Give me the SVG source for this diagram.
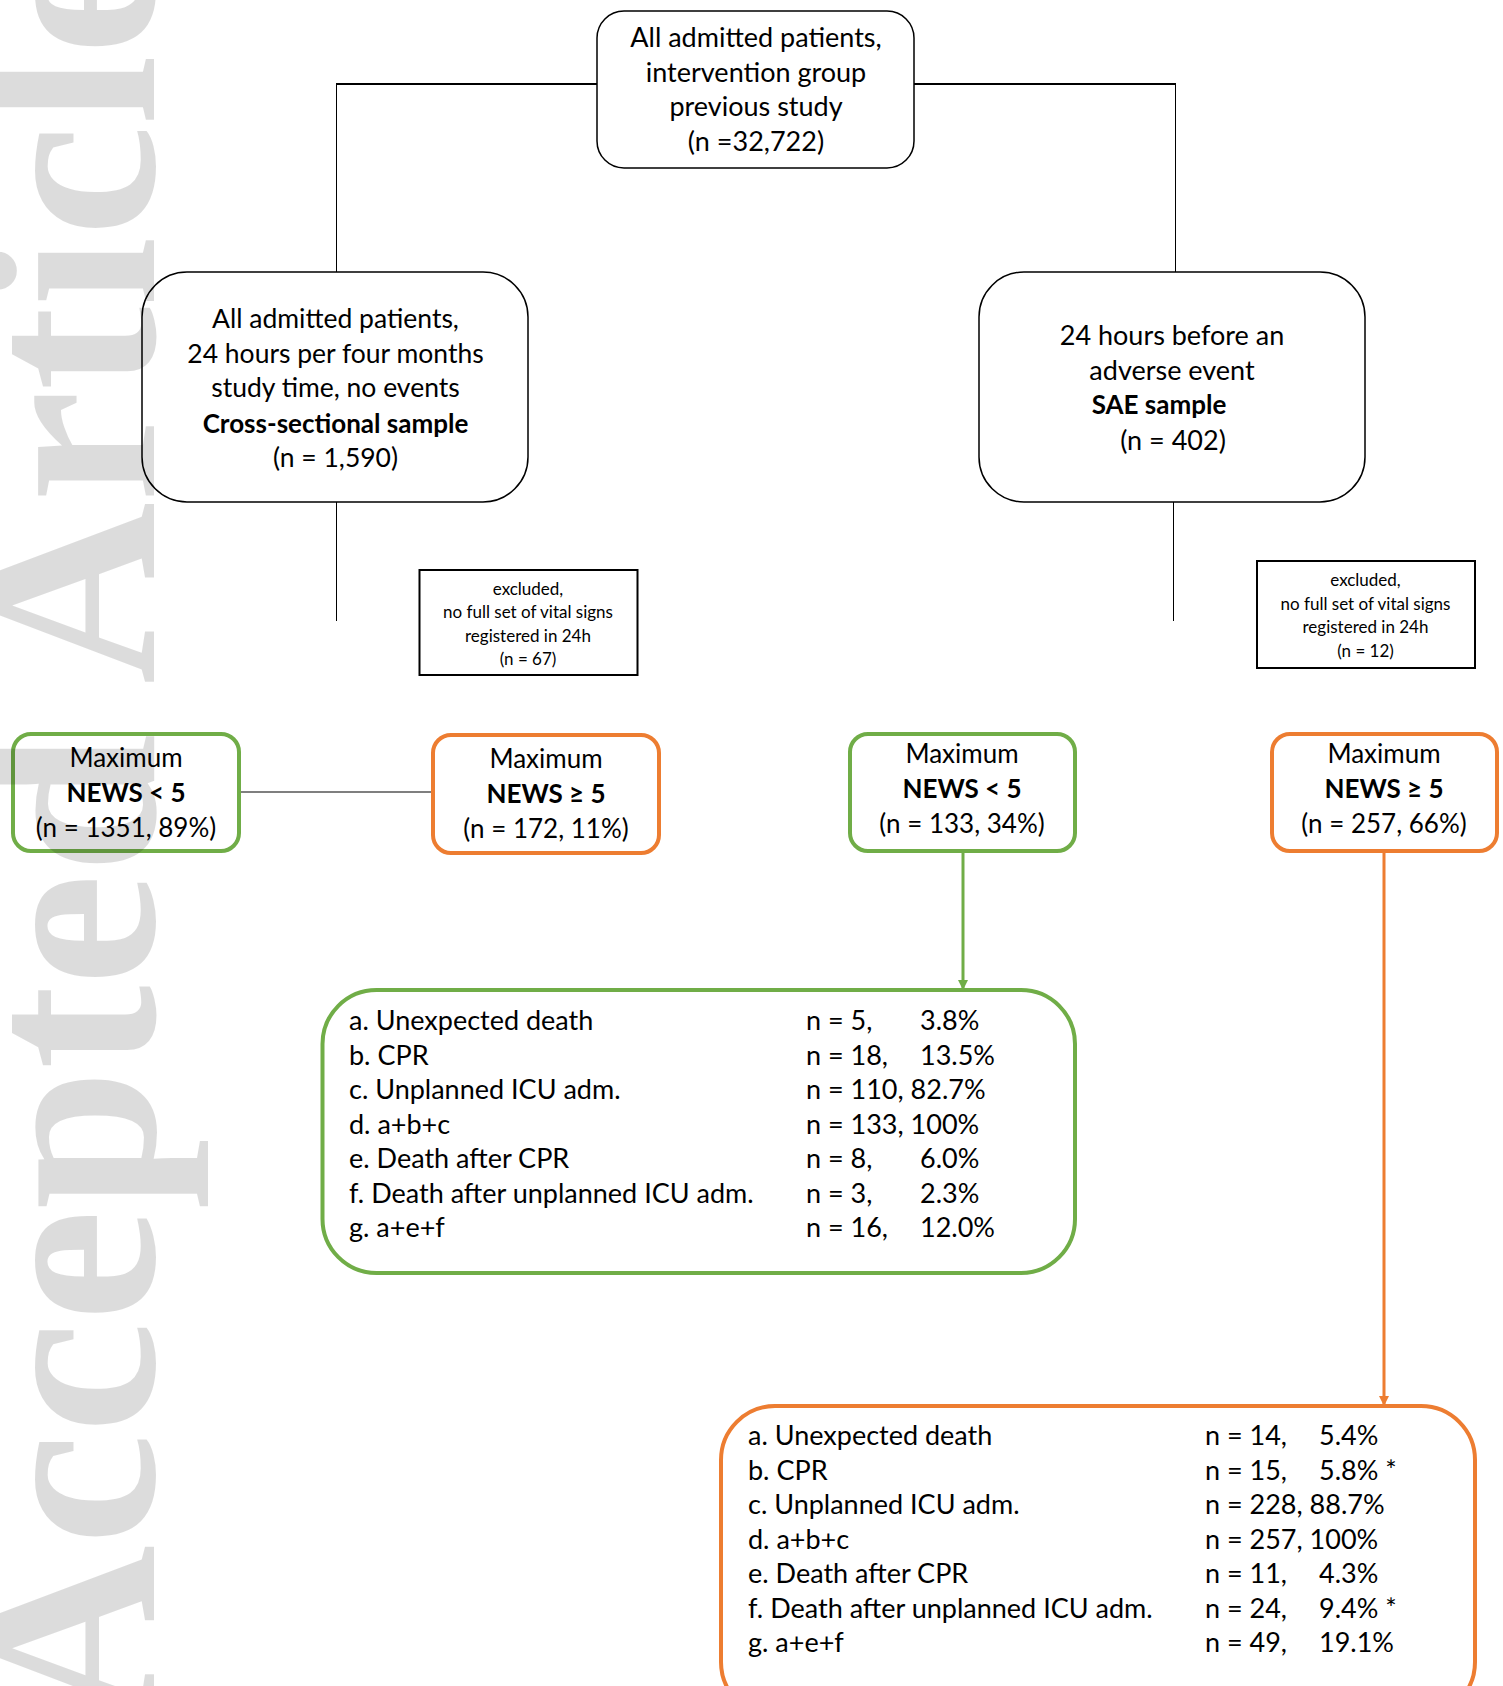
<svg xmlns="http://www.w3.org/2000/svg" width="1503" height="1686" viewBox="0 0 1503 1686">
<style>
  .t { font-family: Lato, "Noto Sans", "DejaVu Sans", sans-serif; font-size: 27px; fill: #000; text-anchor: middle; }
  .m { font-size: 26.5px; }
  .n { font-size: 26px; }
  .l { font-family: Lato, "Noto Sans", "DejaVu Sans", sans-serif; font-size: 27px; fill: #000; }
  .s { font-family: Lato, "Noto Sans", "DejaVu Sans", sans-serif; font-size: 17px; fill: #000; text-anchor: middle; }
  .b { font-weight: bold; font-size: 26px; }
  .box { fill: #fff; stroke: #000; stroke-width: 1.5; }
  .ex { fill: #fff; stroke: #000; stroke-width: 2; }
  .g { fill: #fff; stroke: #70AD47; stroke-width: 4; }
  .o { fill: #fff; stroke: #ED7D31; stroke-width: 4; }
  .wm { font-family: "Liberation Serif", "Times New Roman", serif; font-weight: bold; font-size: 252px; fill: #000; fill-opacity: 0.137; }
</style>
<defs>
  <marker id="ag" markerWidth="10" markerHeight="10" refX="8" refY="5" orient="auto" markerUnits="userSpaceOnUse" viewBox="0 0 10 10"><path d="M0,0 L10,5 L0,10 z" fill="#70AD47"/></marker>
  <marker id="ao" markerWidth="10" markerHeight="10" refX="8" refY="5" orient="auto" markerUnits="userSpaceOnUse" viewBox="0 0 10 10"><path d="M0,0 L10,5 L0,10 z" fill="#ED7D31"/></marker>
</defs>
<rect width="1503" height="1686" fill="#fff"/>

<g id="connectors" fill="none">
  <line x1="336" y1="84" x2="597" y2="84" stroke="#000" stroke-width="2"/>
  <line x1="914" y1="84" x2="1176" y2="84" stroke="#000" stroke-width="2"/>
  <line x1="336.5" y1="84" x2="336.5" y2="272" stroke="#000" stroke-width="1"/>
  <line x1="1175.5" y1="84" x2="1175.5" y2="272" stroke="#000" stroke-width="1"/>
  <line x1="336.5" y1="502" x2="336.5" y2="621" stroke="#000" stroke-width="1"/>
  <line x1="1173.5" y1="502" x2="1173.5" y2="621" stroke="#000" stroke-width="1"/>
  <line x1="239" y1="792" x2="433" y2="792" stroke="#7f7f7f" stroke-width="2"/>
  <line x1="963" y1="853" x2="963" y2="988" stroke="#70AD47" stroke-width="3" marker-end="url(#ag)"/>
  <line x1="1384" y1="853" x2="1384" y2="1404" stroke="#ED7D31" stroke-width="3" marker-end="url(#ao)"/>
</g>

<g id="top">
  <rect class="box" x="597" y="11" width="317" height="157" rx="27"/>
  <text class="t" x="756" y="47">All admitted patients,</text>
  <text class="t" x="756" y="81.5">intervention group</text>
  <text class="t" x="756" y="116">previous study</text>
  <text class="t" x="756" y="150.5">(n =32,722)</text>
</g>

<g id="cross">
  <rect class="box" x="142" y="272" width="386" height="230" rx="45"/>
  <text class="t m" x="335.5" y="328">All admitted patients,</text>
  <text class="t m" x="335.5" y="363">24 hours per four months</text>
  <text class="t m" x="335.5" y="397">study time, no events</text>
  <text class="t b" x="335.5" y="433">Cross-sectional sample</text>
  <text class="t m" x="335.5" y="467">(n = 1,590)</text>
</g>

<g id="sae">
  <rect class="box" x="979" y="272" width="386" height="230" rx="45"/>
  <text class="t" x="1172" y="345">24 hours before an</text>
  <text class="t" x="1172" y="379.5">adverse event</text>
  <text class="t b" x="1159" y="414">SAE sample</text>
  <text class="t" x="1173" y="450">(n = 402)</text>
</g>

<g id="excl-left">
  <rect class="ex" x="419.5" y="570" width="218" height="105"/>
  <text class="s" x="528" y="595">excluded,</text>
  <text class="s" x="528" y="618">no full set of vital signs</text>
  <text class="s" x="528" y="642">registered in 24h</text>
  <text class="s" x="528" y="665">(n = 67)</text>
</g>

<g id="excl-right">
  <rect class="ex" x="1257" y="561" width="218" height="107"/>
  <text class="s" x="1365.5" y="586">excluded,</text>
  <text class="s" x="1365.5" y="609.5">no full set of vital signs</text>
  <text class="s" x="1365.5" y="633">registered in 24h</text>
  <text class="s" x="1365.5" y="656.5">(n = 12)</text>
</g>

<g id="cs-low">
  <rect class="g" x="13" y="734" width="226" height="117" rx="18"/>
  <text class="t n" x="126" y="767">Maximum</text>
  <text class="t b" x="126" y="801.5">NEWS &lt; 5</text>
  <text class="t n" x="126" y="837">(n = 1351, 89%)</text>
</g>

<g id="cs-high">
  <rect class="o" x="433" y="735" width="226" height="118" rx="18"/>
  <text class="t n" x="546" y="768">Maximum</text>
  <text class="t b" x="546" y="803">NEWS ≥ 5</text>
  <text class="t n" x="546" y="838">(n = 172, 11%)</text>
</g>

<g id="sae-low">
  <rect class="g" x="850" y="734" width="225" height="117" rx="18"/>
  <text class="t n" x="962" y="763">Maximum</text>
  <text class="t b" x="962" y="798">NEWS &lt; 5</text>
  <text class="t n" x="962" y="833">(n = 133, 34%)</text>
</g>

<g id="sae-high">
  <rect class="o" x="1272" y="734" width="225" height="117" rx="18"/>
  <text class="t n" x="1384" y="763">Maximum</text>
  <text class="t b" x="1384" y="798">NEWS ≥ 5</text>
  <text class="t n" x="1384" y="833">(n = 257, 66%)</text>
</g>

<g id="outcomes-low">
  <rect class="g" x="322.5" y="990" width="752.5" height="283" rx="54"/>
  <text class="l" x="349" y="1030">a. Unexpected death</text>
  <text class="l" x="349" y="1064.5">b. CPR</text>
  <text class="l" x="349" y="1099">c. Unplanned ICU adm.</text>
  <text class="l" x="349" y="1133.5">d. a+b+c</text>
  <text class="l" x="349" y="1168">e. Death after CPR</text>
  <text class="l" x="349" y="1202.5">f. Death after unplanned ICU adm.</text>
  <text class="l" x="349" y="1237">g. a+e+f</text>
  <text class="l" x="806" y="1030">n = 5,</text><text class="l" x="920" y="1030">3.8%</text>
  <text class="l" x="806" y="1064.5">n = 18,</text><text class="l" x="920" y="1064.5">13.5%</text>
  <text class="l" x="806" y="1099">n = 110, 82.7%</text>
  <text class="l" x="806" y="1133.5">n = 133, 100%</text>
  <text class="l" x="806" y="1168">n = 8,</text><text class="l" x="920" y="1168">6.0%</text>
  <text class="l" x="806" y="1202.5">n = 3,</text><text class="l" x="920" y="1202.5">2.3%</text>
  <text class="l" x="806" y="1237">n = 16,</text><text class="l" x="920" y="1237">12.0%</text>
</g>

<g id="outcomes-high">
  <rect class="o" x="721" y="1406" width="754" height="310" rx="54"/>
  <text class="l" x="748" y="1445">a. Unexpected death</text>
  <text class="l" x="748" y="1479.5">b. CPR</text>
  <text class="l" x="748" y="1514">c. Unplanned ICU adm.</text>
  <text class="l" x="748" y="1548.5">d. a+b+c</text>
  <text class="l" x="748" y="1583">e. Death after CPR</text>
  <text class="l" x="748" y="1617.5">f. Death after unplanned ICU adm.</text>
  <text class="l" x="748" y="1652">g. a+e+f</text>
  <text class="l" x="1205" y="1445">n = 14,</text><text class="l" x="1319" y="1445">5.4%</text>
  <text class="l" x="1205" y="1479.5">n = 15,</text><text class="l" x="1319" y="1479.5">5.8% *</text>
  <text class="l" x="1205" y="1514">n = 228, 88.7%</text>
  <text class="l" x="1205" y="1548.5">n = 257, 100%</text>
  <text class="l" x="1205" y="1583">n = 11,</text><text class="l" x="1319" y="1583">4.3%</text>
  <text class="l" x="1205" y="1617.5">n = 24,</text><text class="l" x="1319" y="1617.5">9.4% *</text>
  <text class="l" x="1205" y="1652">n = 49,</text><text class="l" x="1319" y="1652">19.1%</text>
</g>

<g id="watermark">
  <text class="wm" transform="rotate(-90)" x="-1727" y="154">Accepted Article</text>
</g>
</svg>
